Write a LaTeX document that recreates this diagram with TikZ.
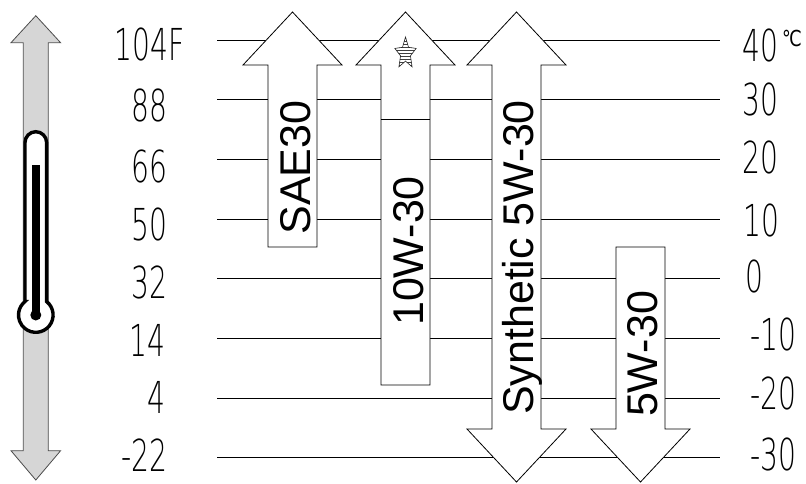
\documentclass[tikz,border=0pt]{standalone}
\usepackage{fontspec}
\setmainfont{Liberation Sans}
\newfontfamily\thinfont{DejaVuSans-ExtraLight.ttf}
\newfontfamily\symfont{DejaVu Sans}
\usetikzlibrary{patterns}
\tikzset{
  grid/.style={line width=0.8pt, black},
  bigarrow/.style={draw=black, fill=white, line width=0.8pt, line join=miter},
  arrowtext/.style={rotate=90, anchor=base, inner sep=0pt, font=\fontsize{43}{43}\selectfont},
  flab/.style={anchor=east, inner sep=0pt, font=\thinfont\fontsize{44}{44}\selectfont},
  clab/.style={anchor=west, inner sep=0pt, font=\thinfont\fontsize{44}{44}\selectfont},
}
\newcommand{\nar}[1]{\scalebox{0.64}[1]{#1}}
\begin{document}
\begin{tikzpicture}[x=1pt,y=-1pt]
\useasboundingbox (0,0) rectangle (806,483);
% horizontal lines
\foreach \yy [count=\i] in {40,99.6,159.3,219,278.6,338.3,398,457.6}{
  \coordinate (l\i) at (217,\yy);
  \coordinate (r\i) at (720,\yy);
  \draw[grid] (l\i) -- (r\i);
}
% left labels
\node[flab] (f1) at (185,44.5) {\nar{104F}};
\node[flab] (f2) at (168,105) {\nar{88}};
\node[flab] (f3) at (168,166) {\nar{66}};
\node[flab] (f4) at (168,224) {\nar{50}};
\node[flab] (f5) at (168,282) {\nar{32}};
\node[flab] (f6) at (166,340) {\nar{14}};
\node[flab] (f7) at (166,397) {\nar{4}};
\node[flab] (f8) at (168,455) {\nar{-22}};
% right labels
\node[clab] (c1) at (742,45) {\nar{40}\hspace{4pt}\raisebox{15pt}{\symfont\fontsize{22}{22}\selectfont\scalebox{0.8}[1]{℃}}};
\node[clab] (c2) at (742,99) {\nar{30}};
\node[clab] (c3) at (742,157) {\nar{20}};
\node[clab] (c4) at (743,220) {\nar{10}};
\node[clab] (c5) at (745,276) {\nar{0}};
\node[clab] (c6) at (750,334) {\nar{-10}};
\node[clab] (c7) at (750,393) {\nar{-20}};
\node[clab] (c8) at (750,454) {\nar{-30}};
% thermometer arrow
\draw[draw=black!70, fill=black!16, line width=0.8pt]
  (23.3,450.7) -- (23.3,42.7) -- (11,42.7) -- (35.8,15.7) -- (60.6,42.7) -- (48.3,42.7)
  -- (48.3,450.7) -- (60.6,450.7) -- (35.8,480) -- (11,450.7) -- cycle;
\draw[fill=white, line width=3.4pt]
  (25,301.5) -- (25,142.5) arc[start angle=180, end angle=0, radius=10.8pt]
  -- (46.6,301.5) arc[start angle=51.4, end angle=-231.4, radius=17.3pt] -- cycle;
\draw[line width=8.3pt] (35.8,165) -- (35.8,315);
\fill (35.8,315) circle[radius=5.5pt];
% SAE30
\draw[bigarrow] (268,247) -- (268,65) -- (243,65) -- (292.5,12) -- (342,65) -- (317,65) -- (317,247) -- cycle;
\node[arrowtext] (sae) at (310,167.5) {SAE30};
% 10W-30
\draw[bigarrow] (381,385) -- (381,65) -- (356,65) -- (405.5,12) -- (455,65) -- (430,65) -- (430,385) -- cycle;
\draw[line width=0.8pt] (381,119.3) -- (430,119.3);
\draw[draw=black!85, line width=0.6pt, line join=miter, pattern=horizontal lines, pattern color=black!75, shift={(405.5,53.5)}, xscale=0.68]
  (270:16.5) \foreach \a in {0,...,4}{ -- ({306+72*\a}:7.6) -- ({342+72*\a}:16.5) } -- cycle;
\node[arrowtext] (tenw) at (423,251) {10W-30};
% Synthetic 5W-30
\draw[bigarrow] (492,429) -- (492,65) -- (467,65) -- (516.5,12) -- (566,65) -- (541,65)
  -- (541,429) -- (566,429) -- (516.5,482) -- (467,429) -- cycle;
\node[arrowtext] (syn) at (533,257.5) {Synthetic 5W-30};
% 5W-30
\draw[bigarrow] (616,247) -- (665,247) -- (665,429) -- (690,429) -- (640.5,482) -- (591,429) -- (616,429) -- cycle;
\node[arrowtext] (fivew) at (657,354) {5W-30};
\end{tikzpicture}
\end{document}
